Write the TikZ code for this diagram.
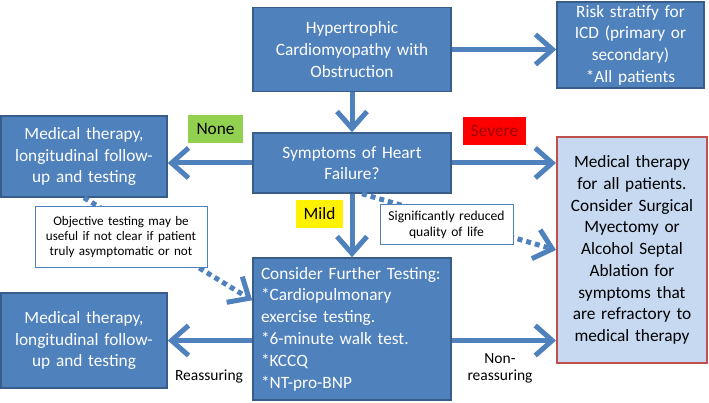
\documentclass[tikz,border=0pt]{standalone}
\usepackage{fontspec}
\setmainfont{Carlito}
\usetikzlibrary{arrows.meta,calc}
\definecolor{boxblue}{HTML}{4F81BD}
\definecolor{boxedge}{HTML}{385D8A}
\definecolor{lightbox}{HTML}{C6D9F1}
\definecolor{rededge}{HTML}{C0504D}
\definecolor{lgreen}{HTML}{92D050}
\definecolor{darkred}{HTML}{A00000}
\tikzset{
  bluebox/.style={draw=boxedge, line width=1.5pt, fill=boxblue, text=white, inner sep=0pt, align=center, font=\fontsize{17.3}{21.7}\selectfont},
  notebox/.style={draw=boxblue, line width=1pt, fill=white, align=center, inner sep=0pt},
  tagbox/.style={inner sep=0pt, font=\fontsize{17.3}{21.7}\selectfont},
  plain/.style={inner sep=0pt, align=center, font=\fontsize{15.5}{17}\selectfont},
  flow/.style={draw=boxblue, line width=5pt, -{Straight Barb[length=17pt,width=30pt]}},
  dotflow/.style={flow, dash pattern=on 5pt off 4pt},
}
\begin{document}
\begin{tikzpicture}[x=1pt,y=-1pt]
\useasboundingbox (0,0) rectangle (709,403);
\node[bluebox, minimum width=198pt, minimum height=84pt, text width=190pt] (hyp) at (352,49.5) {Hypertrophic\\Cardiomyopathy with\\Obstruction};
\node[bluebox, minimum width=147pt, minimum height=86pt, text width=140pt] (risk) at (630.5,45) {Risk stratify for\\ICD (primary or\\secondary)\\{}*All patients};
\node[bluebox, minimum width=198pt, minimum height=60pt, text width=190pt] (sym) at (352,163) {Symptoms of Heart\\Failure?};
\node[bluebox, minimum width=166pt, minimum height=81pt, text width=160pt] (medtop) at (84,156.5) {Medical therapy,\\longitudinal follow-\\up and testing};
\node[bluebox, draw=rededge, line width=2pt, fill=lightbox, text=black, minimum width=150pt, minimum height=226pt, text width=144pt] (right) at (632,250) {Medical therapy\\for all patients.\\Consider Surgical\\Myectomy or\\Alcohol Septal\\Ablation for\\symptoms that\\are refractory to\\medical therapy};
\node[bluebox, align=left, minimum width=198pt, minimum height=142pt, text width=182pt, font=\fontsize{17.3}{21.8}\selectfont] (cons) at (352,329) {Consider Further Testing:\\{}*Cardiopulmonary\\exercise testing.\\{}*6-minute walk test.\\{}*KCCQ\\{}*NT-pro-BNP};
\node[bluebox, minimum width=166pt, minimum height=95pt, text width=160pt] (medbot) at (84,340.5) {Medical therapy,\\longitudinal follow-\\up and testing};
\node[tagbox, fill=lgreen, minimum width=55pt, minimum height=28pt] (none) at (215.5,129) {None};
\node[tagbox, fill=red, text=darkred, minimum width=63pt, minimum height=28pt] (severe) at (494.5,131) {Severe};
\node[tagbox, fill=yellow, minimum width=47pt, minimum height=28pt] (mild) at (319.5,214) {Mild};
\node[plain] (reass) at (209,376) {Reassuring};
\node[plain] (nonre) at (500,368) {Non-\\reassuring};
\coordinate (cr) at (cons.east |- medbot.east);
\draw[flow] (hyp.east) -- (hyp.east -| risk.west);
\draw[flow] (hyp.south) -- (sym.north);
\draw[flow] (sym.west) -- (sym.west -| medtop.east);
\draw[flow] (sym.east) -- (sym.east -| right.west);
\draw[flow] (sym.south) -- (cons.north);
\draw[flow] (cons.west |- medbot.east) -- (medbot.east);
\draw[flow] (cr) -- (cr -| right.west);
\draw[dotflow] (medtop.south) -- ($(cons.north west)!0.3!(cons.south west)$);
\draw[dotflow] ($(sym.south west)!0.55!(sym.south east)$) -- (right.west);
\node[notebox, minimum width=172pt, minimum height=61pt, text width=166pt, font=\fontsize{13.1}{15}\selectfont] (note1) at (121,237.5) {Objective testing may be\\useful if not clear if patient\\truly asymptomatic or not};
\node[notebox, minimum width=133pt, minimum height=40pt, text width=128pt, font=\fontsize{13.6}{16}\selectfont] (note2) at (446.5,225) {Significantly reduced\\quality of life};
\end{tikzpicture}
\end{document}
